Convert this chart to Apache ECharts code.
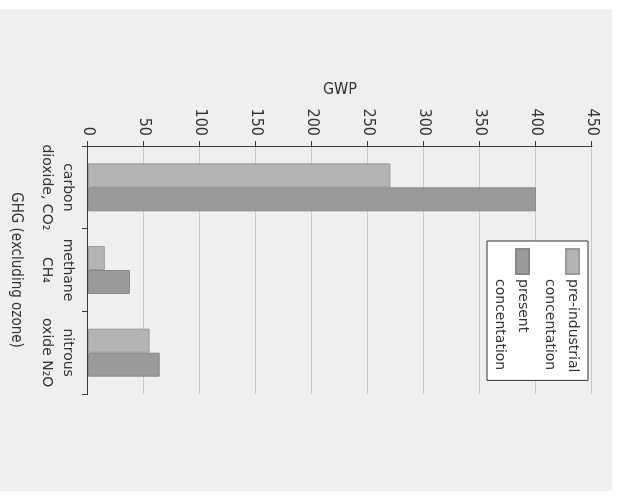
<!DOCTYPE html>
<html>
<head>
<meta charset="utf-8">
<script src="https://cdn.jsdelivr.net/npm/echarts@6/dist/echarts.min.js"></script>
<style>
  html, body { margin: 0; padding: 0; width: 626px; height: 500px; overflow: hidden; background: #ffffff; }
  #bg { position: absolute; left: 0; top: 9px; width: 612px; height: 482px; background: #efefef; }
  #chart { position: absolute; left: 0; top: 0; width: 500px; height: 626px;
           transform-origin: 0 0; transform: translateX(626px) rotate(90deg); }
</style>
</head>
<body>
<div id="bg"></div>
<div id="chart"></div>
<script>
// Data
const categories = ['carbon\ndioxide, CO\u2082', 'methane\nCH\u2084', 'nitrous\noxide N\u2082O'];
const seriesNames = ['pre-industrial\nconcentation', 'present\nconcentation'];
const preIndustrial = [270, 15, 55];
const presentValues = [400, 37.5, 64];
const valueMin = 0, valueMax = 450, valueInterval = 50;
const categoryAxisName = 'GHG (excluding ozone)';
const valueAxisName = 'GWP';

const chart = echarts.init(document.getElementById('chart'), null, { renderer: 'canvas' });
const textColor = '#333333';
chart.setOption({
  backgroundColor: 'transparent',
  animation: false,
  grid: { left: 146, top: 34, width: 248, height: 504, containLabel: false, outerBoundsMode: 'none' },
  legend: {
    left: 241, top: 38,
    orient: 'vertical',
    padding: [4, 8, 1, 7],
    itemGap: 4,
    itemWidth: 25, itemHeight: 36,
    icon: 'path://M0,0h25v13h-25z M0,36 L0,36',
    backgroundColor: '#ffffff',
    borderColor: '#333333', borderWidth: 1, borderRadius: 0,
    textStyle: { fontFamily: 'DejaVu Sans', fontSize: 14, lineHeight: 23, color: textColor },
    data: seriesNames
  },
  xAxis: {
    type: 'category',
    data: categories,
    name: categoryAxisName,
    nameLocation: 'middle',
    nameGap: 65,
    nameMoveOverlap: false,
    nameTextStyle: { fontFamily: 'DejaVu Sans Condensed', fontSize: 15, color: textColor },
    axisLine: { show: true, lineStyle: { color: '#3c3c3c', width: 1 } },
    axisTick: { show: true, length: 6, lineStyle: { color: '#3c3c3c' } },
    axisLabel: { interval: 0, margin: 10, fontFamily: 'DejaVu Sans', fontSize: 14, lineHeight: 21, color: textColor, align: 'center' },
    splitLine: { show: false }
  },
  yAxis: {
    type: 'value',
    min: valueMin, max: valueMax, interval: valueInterval,
    name: valueAxisName,
    nameLocation: 'middle',
    nameGap: 48,
    nameMoveOverlap: false,
    nameTextStyle: { fontFamily: 'DejaVu Sans Condensed', fontSize: 16, color: textColor },
    axisLine: { show: true, lineStyle: { color: '#3c3c3c', width: 1 } },
    axisTick: { show: true, length: 5, lineStyle: { color: '#3c3c3c' } },
    axisLabel: { margin: 10, fontFamily: 'DejaVu Sans Condensed', fontSize: 16, color: textColor },
    splitLine: { show: true, lineStyle: { color: '#c9c9c9', width: 1 } }
  },
  series: [
    {
      name: seriesNames[0], type: 'bar', data: preIndustrial,
      barWidth: 24, barGap: '0%',
      itemStyle: { color: '#b4b4b4', borderColor: '#9a9a9a', borderWidth: 1 }
    },
    {
      name: seriesNames[1], type: 'bar', data: presentValues,
      barWidth: 24, barGap: '0%',
      itemStyle: { color: '#9a9a9a', borderColor: '#888888', borderWidth: 1 }
    }
  ]
});
</script>
</body>
</html>
